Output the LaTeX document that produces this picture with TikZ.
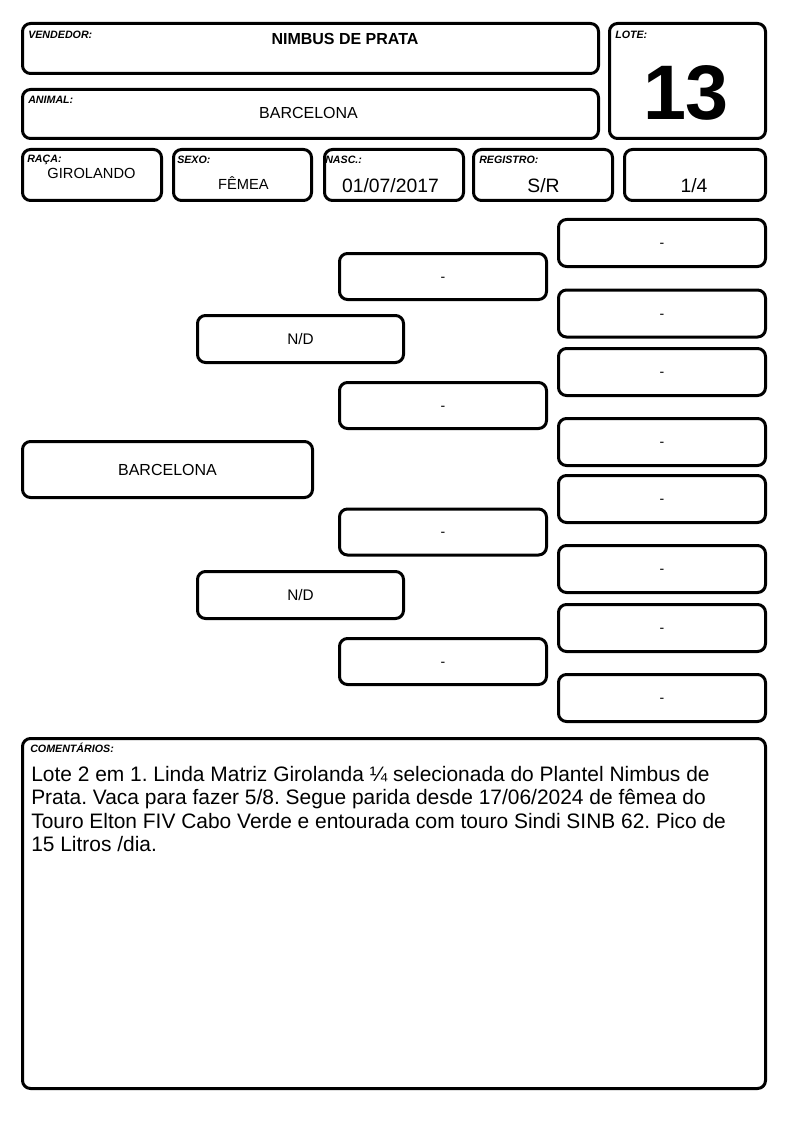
\documentclass[tikz,border=0pt]{standalone}
\usepackage{fontspec}
\setmainfont{Liberation Sans}
\frenchspacing
\begin{document}
\begin{tikzpicture}[x=0.75pt,y=-0.75pt,
  box/.style 2 args={draw=black, line width=2.25pt, rounded corners=6pt, line join=round,
    minimum width=#1*0.75pt, minimum height=#2*0.75pt, inner sep=0pt, outer sep=0pt},
  lbl/.style={anchor=base west, inner sep=0pt, font=\fontsize{8}{9.6}\selectfont\bfseries\itshape},
  val/.style={anchor=base, inner sep=0pt},
  dashtxt/.style={font=\fontsize{10.5}{12}\selectfont, text height=0.72em, text depth=0pt},
  cmt/.style={anchor=base west, inner sep=0pt, font=\fontsize{15.7}{18}\selectfont}]
\useasboundingbox (0,0) rectangle (794,1123);
% header
\node[box={576}{50}] (vend) at (310.5,48.5) {};
\node[lbl] (vendl) at (28,39) {VENDEDOR:};
\node[val, font=\fontsize{12}{14}\selectfont\bfseries] (vendv) at (345,44.5) {NIMBUS DE PRATA};
\node[box={576}{49}] (anim) at (310.5,114) {};
\node[lbl] (animl) at (28,103.5) {ANIMAL:};
\node[val, font=\fontsize{12}{14}\selectfont] (animv) at (308.5,119) {BARCELONA};
\node[box={156}{115}] (lote) at (687.5,81) {};
\node[lbl] (lotel) at (615,39) {LOTE:};
\node[val, font=\fontsize{58}{60}\selectfont\bfseries] (lotev) at (686,120) {13};
% row 3
\node[box={139}{51}] (raca) at (92,175) {};
\node[lbl] (racal) at (27,162.5) {RAÇA:};
\node[val, font=\fontsize{11}{13}\selectfont] (racav) at (91.5,178.5) {GIROLANDO};
\node[box={138}{51}] (sexo) at (242.5,175) {};
\node[lbl] (sexol) at (177,164) {SEXO:};
\node[val, font=\fontsize{11}{13}\selectfont] (sexov) at (243.5,189.5) {FÊMEA};
\node[box={139}{51}] (nasc) at (394,175) {};
\node[lbl] (nascl) at (325,164) {NASC.:};
\node[val, font=\fontsize{14.5}{17}\selectfont] (nascv) at (390.5,193) {01/07/2017};
\node[box={139}{51}] (reg) at (543,175) {};
\node[lbl] (regl) at (479,164) {REGISTRO:};
\node[val, font=\fontsize{14.5}{17}\selectfont] (regv) at (543.5,193) {S/R};
\node[box={141}{51}] (frac) at (695,175) {};
\node[val, font=\fontsize{14.5}{17}\selectfont] (fracv) at (694,193) {1/4};
% pedigree
\node[box={290}{56}, font=\fontsize{12}{14}\selectfont] (p0) at (167.5,469.5) {BARCELONA};
\node[box={206}{47}, font=\fontsize{11.5}{13}\selectfont] (p1) at (300.5,339) {N/D};
\node[box={206}{47}, font=\fontsize{11.5}{13}\selectfont] (p2) at (300.5,595) {N/D};
\node[box={207}{46}, dashtxt] (p11) at (443,276.5) {-};
\node[box={207}{46}, dashtxt] (p12) at (443,405.5) {-};
\node[box={207}{46}, dashtxt] (p21) at (443,532) {-};
\node[box={207}{46}, dashtxt] (p22) at (443,661.5) {-};
\node[box={207}{47}, dashtxt] (p111) at (662,243) {-};
\node[box={207}{47}, dashtxt] (p112) at (662,313.5) {-};
\node[box={207}{47}, dashtxt] (p121) at (662,372) {-};
\node[box={207}{47}, dashtxt] (p122) at (662,442) {-};
\node[box={207}{47}, dashtxt] (p211) at (662,499) {-};
\node[box={207}{47}, dashtxt] (p212) at (662,569) {-};
\node[box={207}{47}, dashtxt] (p221) at (662,628) {-};
\node[box={207}{47}, dashtxt] (p222) at (662,698) {-};
% comments
\node[box={743}{350}] (com) at (394,913.5) {};
\node[lbl] (coml) at (30,752) {COMENTÁRIOS:};
\node[cmt] (c1) at (31,781) {Lote 2 em 1. Linda Matriz Girolanda ¼ selecionada do Plantel Nimbus de};
\node[cmt] (c2) at (31,804.6) {Prata. Vaca para fazer 5/8. Segue parida desde 17/06/2024 de fêmea do};
\node[cmt] (c3) at (31,828.2) {Touro Elton FIV Cabo Verde e entourada com touro Sindi SINB 62. Pico de};
\node[cmt] (c4) at (31,851.8) {15 Litros /dia.};
\end{tikzpicture}
\end{document}
